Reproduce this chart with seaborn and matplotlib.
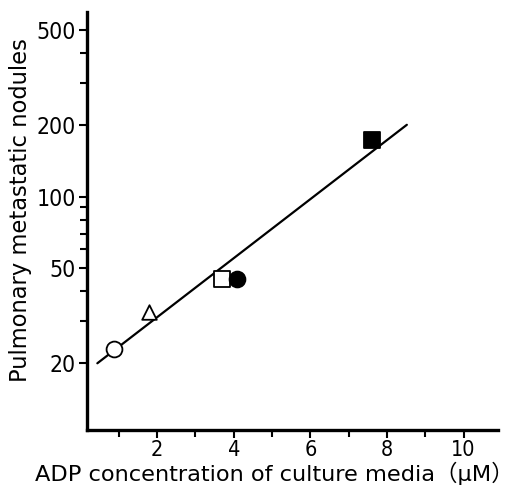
import matplotlib
matplotlib.use("Agg")
import matplotlib.pyplot as plt
import seaborn as sns
from matplotlib.ticker import FixedLocator, NullFormatter

# Data
groups = ["open circle", "open triangle", "open square", "filled circle", "filled square"]
adp = [0.88, 1.80, 3.70, 4.08, 7.60]
nodules = [22.9, 32.8, 45.0, 45.0, 172.0]
markers = ["o", "^", "s", "o", "s"]
fills = ["white", "white", "white", "black", "black"]

fit_x = [0.44, 8.52]
fit_y = [20.0, 200.0]

x_major = [2, 4, 6, 8, 10]
x_minor = [1, 3, 5, 7, 9]
y_major = [20, 50, 100, 200, 500]
y_minor = [30, 40, 60, 70, 80, 90, 300, 400]

sns.set_style("ticks")
plt.rcParams["font.family"] = ["DejaVu Sans", "Noto Sans CJK JP"]
plt.rcParams["text.color"] = "black"
plt.rcParams["axes.labelcolor"] = "black"
plt.rcParams["xtick.color"] = "black"
plt.rcParams["ytick.color"] = "black"

fig = plt.figure(figsize=(5.26, 4.86), dpi=100)
ax = fig.add_axes([0.1654, 0.1152, 0.7814, 0.86])

sns.lineplot(x=fit_x, y=fit_y, ax=ax, color="black", linewidth=1.6)
for xv, yv, m, f in zip(adp, nodules, markers, fills):
    size = 130 if m != "^" else 110
    sns.scatterplot(x=[xv], y=[yv], marker=m, s=size, color=f,
                    edgecolor="black", linewidth=1.3, ax=ax, zorder=3)

ax.set_yscale("log")
ax.set_xlim(0.17, 10.9)
ax.set_ylim(10.5, 594)

ax.xaxis.set_major_locator(FixedLocator(x_major))
ax.xaxis.set_minor_locator(FixedLocator(x_minor))
ax.yaxis.set_major_locator(FixedLocator(y_major))
ax.yaxis.set_minor_locator(FixedLocator(y_minor))
ax.yaxis.set_minor_formatter(NullFormatter())

ax.tick_params(axis="both", which="major", width=1.5, length=6, color="black")
ax.tick_params(axis="both", which="minor", width=1.5, length=5, color="black")
ax.tick_params(axis="x", pad=1)
ax.tick_params(axis="y", pad=2)
ax.set_xticklabels([str(v) for v in x_major], fontsize=15.5,
                   fontstretch="condensed", color="black")
ax.set_yticklabels([str(v) for v in y_major], fontsize=16.5,
                   fontstretch="condensed", color="black")

for side in ["top", "right"]:
    ax.spines[side].set_visible(False)
for side in ["left", "bottom"]:
    ax.spines[side].set_linewidth(2.4)
    ax.spines[side].set_color("black")

ax.set_xlabel("ADP concentration of culture media（μM）", fontsize=16.2,
              color="black")
ax.set_ylabel("Pulmonary metastatic nodules", fontsize=16.3, color="black")
ax.xaxis.set_label_coords(0.455, -0.076)
ax.yaxis.set_label_coords(-0.134, 0.526)

fig.savefig("out.png", dpi=100)
